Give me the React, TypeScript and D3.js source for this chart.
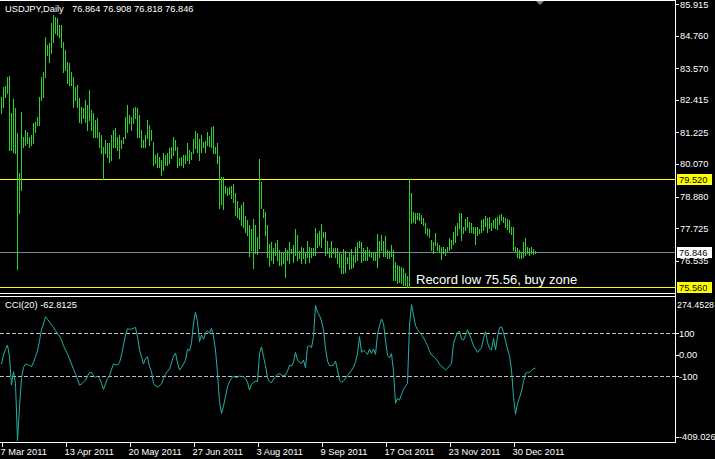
import React from "react";
import * as d3 from "d3";

const highs = [
  82.53, 82.87, 82.92, 83.23, 83.28, 81.92, 82.43, 82.10, 81.19, 79.73,
  81.98, 81.07, 81.31, 81.25, 81.07, 81.13, 81.55, 81.61, 81.80, 82.53,
  83.26, 83.44, 84.72, 84.42, 84.48, 85.21, 85.51, 85.45, 85.39, 85.15,
  85.15, 84.54, 84.23, 83.81, 83.75, 83.44, 83.26, 82.89, 82.95, 82.47,
  82.16, 82.10, 82.41, 82.22, 82.77, 82.04, 81.92, 81.68, 81.74, 81.25,
  81.13, 80.70, 80.94, 80.82, 80.82, 81.13, 81.31, 81.37, 81.07, 81.13,
  80.94, 81.07, 81.80, 82.22, 81.86, 81.80, 82.10, 82.16, 82.10, 81.86,
  81.31, 80.94, 81.13, 81.68, 81.49, 81.31, 80.88, 80.40, 80.46, 80.34,
  80.21, 80.46, 80.40, 80.46, 80.64, 80.70, 81.07, 80.94, 80.70, 80.27,
  80.34, 80.40, 80.40, 80.82, 80.58, 80.52, 80.97, 81.29, 81.19, 80.97,
  81.13, 80.89, 80.92, 81.25, 81.09, 81.43, 81.46, 80.70, 80.85, 80.36,
  79.61, 79.58, 79.27, 79.18, 79.24, 79.27, 79.34, 79.02, 78.72, 78.45,
  78.57, 78.68, 78.17, 78.02, 77.84, 77.68, 78.05, 77.84, 77.41, 80.25,
  79.42, 78.44, 78.33, 77.84, 77.15, 77.23, 77.01, 77.17, 77.29, 76.93,
  76.80, 76.80, 76.99, 76.93, 77.21, 76.95, 77.11, 77.68, 77.47, 76.90,
  77.05, 76.99, 76.87, 77.26, 77.05, 76.99, 76.99, 77.72, 77.56, 77.62,
  77.88, 77.60, 77.60, 77.26, 76.99, 77.26, 76.99, 76.99, 77.01, 76.80,
  76.77, 76.95, 76.89, 76.68, 76.80, 76.96, 76.74, 77.05, 77.23, 77.26,
  77.23, 77.01, 76.93, 77.05, 76.93, 76.84, 76.84, 76.80, 77.51, 77.26,
  77.47, 77.27, 77.45, 76.93, 76.90, 77.11, 76.93, 76.50, 76.38, 76.34,
  76.32, 76.26, 76.07, 75.98, 79.52, 79.00, 78.33, 78.27, 78.29, 78.27,
  78.21, 78.08, 77.93, 77.72, 77.68, 77.29, 77.23, 77.54, 77.17, 77.11,
  77.05, 77.02, 76.95, 77.05, 77.35, 77.29, 77.60, 77.80, 77.90, 78.27,
  78.27, 77.78, 78.05, 78.14, 77.96, 77.90, 77.78, 77.78, 77.78, 77.68,
  78.02, 78.05, 78.17, 78.08, 78.14, 77.90, 78.02, 78.08, 78.14, 78.21,
  78.24, 78.14, 78.08, 78.05, 78.02, 77.78, 77.75, 77.05, 76.99, 76.93,
  76.87, 77.23, 77.35, 77.05, 76.99, 77.02, 76.95, 76.908,
];

const lows = [
  81.92, 82.16, 82.53, 82.65, 80.58, 80.58, 80.52, 80.46, 76.25, 78.27,
  79.12, 80.70, 80.76, 80.82, 80.70, 80.76, 80.82, 81.25, 81.49, 81.49,
  82.41, 82.53, 83.26, 84.05, 83.81, 84.11, 84.54, 84.84, 84.78, 84.72,
  84.36, 83.44, 83.50, 83.02, 82.95, 82.95, 82.16, 82.41, 82.16, 81.61,
  81.55, 81.74, 81.61, 81.31, 81.68, 81.31, 81.07, 81.07, 81.07, 80.70,
  80.46, 79.51, 80.46, 80.34, 80.15, 80.21, 80.70, 80.70, 80.58, 80.27,
  80.64, 80.82, 81.01, 81.25, 81.55, 81.31, 81.55, 81.74, 81.07, 81.07,
  80.70, 80.70, 80.70, 81.01, 80.76, 80.94, 80.03, 80.09, 79.97, 79.97,
  79.67, 79.85, 80.03, 80.03, 80.09, 80.27, 80.40, 80.58, 79.97, 80.03,
  80.03, 79.97, 80.09, 80.21, 80.09, 80.25, 80.48, 80.64, 80.52, 80.22,
  80.52, 80.70, 80.52, 80.76, 80.74, 80.70, 80.48, 80.46, 80.09, 78.45,
  78.61, 78.42, 79.00, 78.94, 78.97, 78.81, 78.69, 78.21, 78.12, 78.05,
  77.83, 77.78, 77.60, 77.47, 76.71, 76.93, 76.28, 76.80, 76.78, 76.99,
  78.45, 78.14, 77.47, 76.68, 76.34, 76.56, 76.46, 76.74, 76.56, 76.38,
  76.38, 76.44, 75.95, 76.56, 76.44, 76.80, 76.50, 76.74, 76.56, 76.62,
  76.46, 76.62, 76.44, 76.68, 76.50, 76.68, 76.74, 76.74, 77.05, 77.11,
  77.05, 77.41, 76.74, 76.80, 76.68, 76.68, 76.80, 76.68, 76.44, 76.32,
  76.10, 76.10, 76.13, 76.44, 76.22, 76.26, 76.32, 76.50, 76.56, 77.05,
  76.50, 76.56, 76.56, 76.56, 76.71, 76.68, 76.56, 76.56, 76.32, 76.68,
  76.93, 76.71, 76.71, 76.62, 76.62, 76.71, 75.83, 75.83, 75.71, 75.77,
  75.71, 75.65, 75.65, 75.59, 75.56, 77.90, 77.96, 77.90, 78.05, 78.02,
  77.93, 77.84, 77.54, 77.47, 77.41, 76.93, 76.80, 77.11, 76.93, 76.87,
  76.59, 76.80, 76.74, 76.87, 76.93, 76.99, 77.15, 77.23, 77.47, 77.72,
  77.29, 77.54, 77.66, 77.78, 77.60, 77.60, 77.54, 77.15, 77.47, 77.54,
  77.60, 77.66, 77.80, 77.60, 77.72, 77.66, 77.78, 77.72, 77.68, 77.88,
  78.02, 77.96, 77.78, 77.68, 77.60, 77.50, 76.93, 76.87, 76.68, 76.62,
  76.62, 76.66, 76.74, 76.80, 76.74, 76.80, 76.78, 76.818,
];

const cci = [
  -44, -2, 24, 44, -10, -142, -80, -134, -400, -242,
  -111, -60, -44, -47, -50, -56, -36, -10, 16, 64,
  117, 142, 176, 164, 150, 139, 125, 111, 97, 86,
  68, 41, 21, 2, -21, -44, -69, -91, -114, -142,
  -137, -128, -119, -100, -84, -83, -100, -106, -100, -112,
  -134, -162, -137, -112, -100, -69, -44, -47, -49, -38,
  -2, 44, 91, 120, 117, 119, 122, 126, 83, 21,
  -10, -44, -18, -10, -56, -80, -134, -146, -150, -145,
  -137, -111, -91, -78, -67, -38, -7, 6, -38, -72,
  -60, -44, -26, 24, 18, 52, 145, 197, 153, 60,
  91, 71, 99, 111, 99, 122, 83, 21, -88, -219,
  -274, -239, -196, -150, -125, -111, -100, -106, -106, -100,
  -102, -103, -111, -129, -165, -139, -129, -123, -126, 5,
  36, -10, -52, -108, -126, -131, -114, -103, -92, -89,
  -95, -98, -95, -77, -49, -54, -36, 10, -26, -36,
  -41, -26, -61, 36, 41, 32, 83, 228, 196, 181,
  156, 114, 29, -30, -52, -52, -49, -30, -72, -119,
  -129, -123, -111, -97, -85, -74, -58, -36, 5, 83,
  10, 21, 10, 1, 26, 5, 26, 1, 94, 134,
  165, 145, 67, -5, -15, 4, -80, -227, -204, -212,
  -185, -162, -147, -134, 137, 232, 184, 134, 117, 103,
  92, 78, 60, 41, 16, -2, -8, -18, -29, -46,
  -53, -64, -71, -64, -53, -41, 52, 78, 103, 109,
  72, 67, 88, 115, 94, 67, 41, 26, 10, 21,
  32, 75, 106, 57, 29, 21, 75, 21, 83, 125,
  129, 103, 63, 26, -5, -72, -196, -278, -227, -201,
  -170, -126, -88, -83, -83, -74, -67, -62.8125,
];

const dateTickIndex = [0, 32, 64, 96, 128, 160, 192, 224, 256];
const dateLabels = [
  "7 Mar 2011", "13 Apr 2011", "20 May 2011", "27 Jun 2011", "3 Aug 2011",
  "9 Sep 2011", "17 Oct 2011", "23 Nov 2011", "30 Dec 2011",
];
const priceTicks = [85.915, 84.76, 83.57, 82.415, 81.225, 80.07, 78.88, 77.725, 76.535];
const priceTickText = ["85.915", "84.760", "83.570", "82.415", "81.225", "80.070", "78.880", "77.725", "76.535"];
const levelLines = [79.52, 75.56];
const levelText = ["79.520", "75.560"];
const lastPrice = 76.846;
const lastPriceText = "76.846";
const cciLevels = [100, -100];
const cciTicks = [100, 0, -100];
const cciTickText = ["100", "0.00", "-100"];
const cciMax = 274.4528;
const cciMin = -409.026;
const headerSymbol = "USDJPY,Daily";
const headerOHLC = "76.864 76.908 76.818 76.846";
const cciTitle = "CCI(20) -62.8125";
const noteText = "Record low 75.56, buy zone";

const FONT = "'Liberation Sans', Arial, sans-serif";
const px = (v: number) => Math.round(v) + 0.5;

export default function App() {
  const W = 715;
  const H = 459;
  const axisX = 675.5;
  const x = d3.scaleLinear().domain([0, 267]).range([1.5, 535.5]);
  const y = d3.scaleLinear().domain([75.56, 85.915]).range([287.4, 4]);
  const yc = d3.scaleLinear().domain([cciMin, cciMax]).range([442.5, 295.5]);
  const cciPath = d3
    .line<number>()
    .x((_, i) => x(i))
    .y((d) => yc(d))(cci) as string;

  const green = "#2bd42b";

  return (
    <div style={{ position: "fixed", left: 0, top: 0, width: W, height: H, background: "#000" }}>
      <svg width={W} height={H} style={{ display: "block" }} fontFamily={FONT}>
        <rect x={0} y={0} width={W} height={H} fill="#000" />
        <defs>
          <clipPath id="mainClip">
            <rect x={0} y={0} width={675} height={293} />
          </clipPath>
          <clipPath id="cciClip">
            <rect x={0} y={297} width={675} height={145} />
          </clipPath>
          <clipPath id="axisMainClip">
            <rect x={676} y={0} width={40} height={294} />
          </clipPath>
        </defs>

        {/* level lines */}
        <g clipPath="url(#mainClip)">
          {levelLines.map((v, i) => (
            <line key={"lv" + i} x1={0} x2={675} y1={px(y(v))} y2={px(y(v))} stroke="#ffff00" strokeWidth={1} />
          ))}
          <line x1={0} x2={675} y1={px(y(lastPrice))} y2={px(y(lastPrice))} stroke="#778899" strokeWidth={1} />
          {highs.map((h, i) => (
            <line
              key={"b" + i}
              x1={x(i)}
              x2={x(i)}
              y1={Math.round(y(h))}
              y2={Math.round(y(lows[i])) + 1}
              stroke={green}
              strokeWidth={1}
            />
          ))}
          <text x={416} y={284} fill="#ffffff" fontSize={13}>
            {noteText}
          </text>
          <text x={5} y={12} fill="#ffffff" fontSize={9.3}>
            {headerSymbol}
          </text>
          <text x={72} y={12} fill="#ffffff" fontSize={9.3}>
            {headerOHLC}
          </text>
        </g>

        {/* chart shift marker */}
        <path d="M535,0 L545,0 L540,5 Z" fill="#808080" />

        {/* CCI */}
        <g clipPath="url(#cciClip)">
          {cciLevels.map((v, i) => (
            <line key={"cl" + i} x1={0} x2={675} y1={px(yc(v))} y2={px(yc(v))} stroke="#c0c0c0" strokeDasharray="4,2" />
          ))}
          <path d={cciPath} fill="none" stroke="#20b2aa" strokeWidth={1} />
        </g>
        <text x={5} y={308} fill="#ffffff" fontSize={9.3}>
          {cciTitle}
        </text>

        {/* frames */}
        <line x1={0} x2={axisX} y1={0.5} y2={0.5} stroke="#fff" />
        <line x1={0} x2={axisX} y1={293.5} y2={293.5} stroke="#fff" />
        <line x1={0} x2={axisX} y1={296.5} y2={296.5} stroke="#fff" />
        <line x1={0} x2={axisX + 0.5} y1={442.5} y2={442.5} stroke="#fff" />
        <line x1={axisX} x2={axisX} y1={0} y2={443} stroke="#fff" />

        {/* price axis */}
        <g clipPath="url(#axisMainClip)">
          {priceTicks.map((v, i) => (
            <g key={"pt" + i}>
              <line x1={675} x2={679} y1={px(y(v))} y2={px(y(v))} stroke="#fff" />
              <text x={680} y={y(v) + 3.5} fill="#fff" fontSize={9.3}>
                {priceTickText[i]}
              </text>
            </g>
          ))}
        </g>
        {levelLines.map((v, i) => (
          <g key={"lb" + i}>
            <rect x={677} y={Math.round(y(v)) - 5} width={35} height={11} fill="#ffff00" />
            <text x={679} y={y(v) + 3.5} fill="#000" fontSize={9.3}>
              {levelText[i]}
            </text>
          </g>
        ))}
        <rect x={677} y={Math.round(y(lastPrice)) - 5} width={35} height={11} fill="#ffffff" />
        <text x={679} y={y(lastPrice) + 3.5} fill="#000" fontSize={9.3}>
          {lastPriceText}
        </text>

        {/* CCI axis */}
        <text x={677} y={yc(cciMax) + 12} fill="#fff" fontSize={8.9}>
          {cciMax.toFixed(4)}
        </text>
        {cciTicks.map((v, i) => (
          <g key={"ct" + i}>
            <line x1={675} x2={679} y1={px(yc(v))} y2={px(yc(v))} stroke="#fff" />
            <text x={679} y={yc(v) + 3.5} fill="#fff" fontSize={9.3}>
              {cciTickText[i]}
            </text>
          </g>
        ))}
        <line x1={675} x2={679} y1={px(yc(cciMin) - 6)} y2={px(yc(cciMin) - 6)} stroke="#fff" />
        <text x={679} y={yc(cciMin) - 3} fill="#fff" fontSize={9.3}>
          {cciMin.toFixed(3)}
        </text>

        {/* date axis */}
        {dateTickIndex.map((idx, i) => (
          <g key={"dt" + i}>
            <line x1={px(x(idx))} x2={px(x(idx))} y1={442} y2={447} stroke="#fff" />
            <text x={x(idx) - 1} y={455} fill="#fff" fontSize={9.3}>
              {dateLabels[i]}
            </text>
          </g>
        ))}
      </svg>
    </div>
  );
}
